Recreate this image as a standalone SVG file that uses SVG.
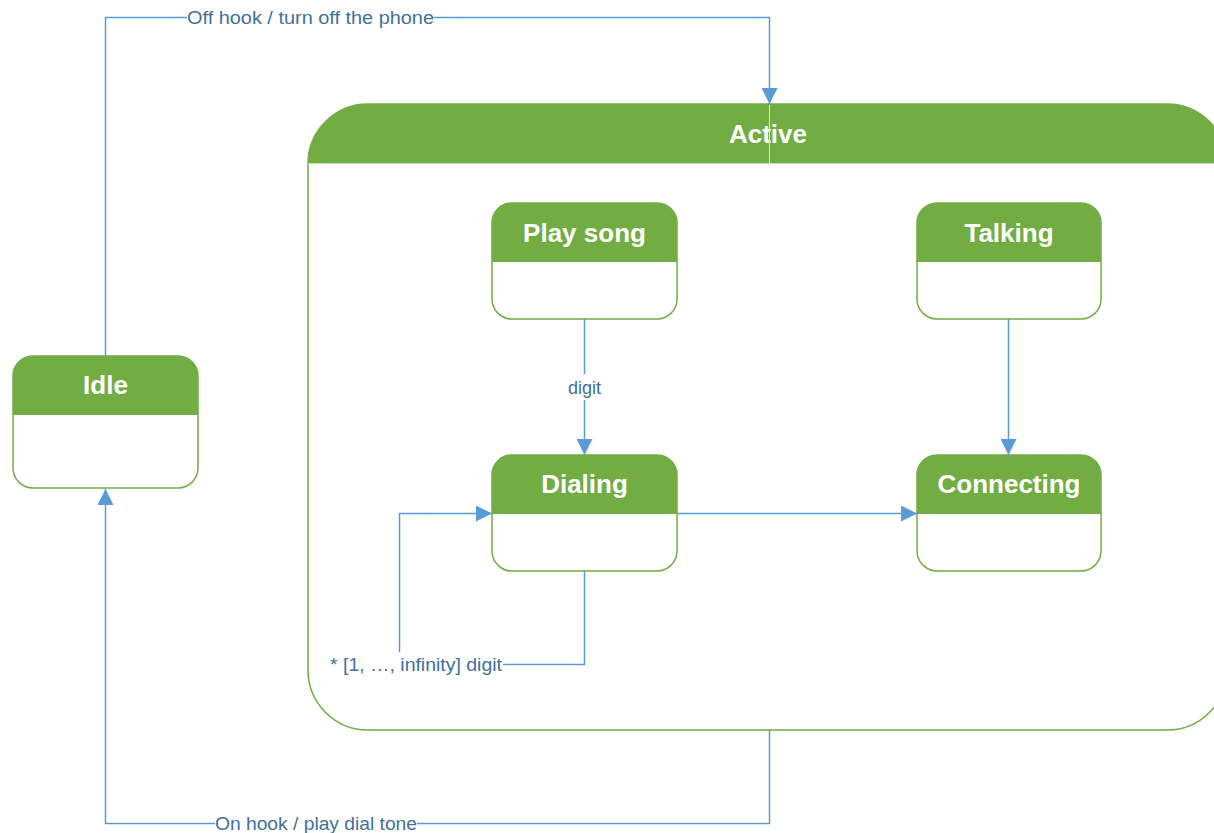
<svg xmlns="http://www.w3.org/2000/svg" width="1214" height="833" viewBox="0 0 1214 833">
<style>
.hdr{fill:#72AD43}
.box{fill:#FFFFFF;stroke:#72AD43;stroke-width:1.5}
.title{font-family:"Liberation Sans",Arial,sans-serif;font-weight:bold;font-size:26px;fill:#FFFFFF;text-anchor:middle}
.edge{fill:none;stroke:#5B9BD5;stroke-width:1.5}
.lbl{font-family:"Liberation Sans",Arial,sans-serif;font-size:18px;fill:#41719C}
</style>
<defs>
<marker id="arr" markerUnits="userSpaceOnUse" markerWidth="17" markerHeight="16" refX="16" refY="8" orient="auto">
<path d="M0,0 L16,8 L0,16 Z" fill="#5B9BD5"/>
</marker>
</defs>
<rect width="1214" height="833" fill="#FFFFFF"/>
<g id="active">
<rect class="box" x="308" y="104" width="919" height="626" rx="60" ry="60"/>
<path class="hdr" d="M308,163 A60,59 0 0 1 368,104 H1167 A60,59 0 0 1 1227,163 Z"/>
<line x1="308.5" y1="163.5" x2="1227" y2="163.5" stroke="#C9E2B8" stroke-width="1"/>
<text class="title" x="768" y="143">Active</text>
</g>
<g id="idle">
<rect class="box" x="13" y="356" width="185" height="132" rx="20" ry="20"/>
<path class="hdr" d="M13,415 V376 A20,20 0 0 1 33,356 H178 A20,20 0 0 1 198,376 V415 Z"/>
<text class="title" x="105.5" y="394">Idle</text>
</g>
<g id="playsong">
<rect class="box" x="492" y="203" width="185" height="116" rx="20" ry="20"/>
<path class="hdr" d="M492,262 V223 A20,20 0 0 1 512,203 H657 A20,20 0 0 1 677,223 V262 Z"/>
<text class="title" x="584.5" y="242">Play song</text>
</g>
<g id="talking">
<rect class="box" x="917" y="203" width="184" height="116" rx="20" ry="20"/>
<path class="hdr" d="M917,262 V223 A20,20 0 0 1 937,203 H1081 A20,20 0 0 1 1101,223 V262 Z"/>
<text class="title" x="1009" y="242">Talking</text>
</g>
<g id="dialing">
<rect class="box" x="492" y="455" width="185" height="116" rx="20" ry="20"/>
<path class="hdr" d="M492,514 V475 A20,20 0 0 1 512,455 H657 A20,20 0 0 1 677,475 V514 Z"/>
<text class="title" x="584.5" y="493">Dialing</text>
</g>
<g id="connecting">
<rect class="box" x="917" y="455" width="184" height="116" rx="20" ry="20"/>
<path class="hdr" d="M917,514 V475 A20,20 0 0 1 937,455 H1081 A20,20 0 0 1 1101,475 V514 Z"/>
<text class="title" x="1009" y="493">Connecting</text>
</g>
<g id="connectors">
<path class="edge" d="M105.5,356 V17.5 H187 M434,17.5 H769.5 V104" marker-end="url(#arr)"/>
<line x1="769.5" y1="105" x2="769.5" y2="163" stroke="#D9E8F5" stroke-width="1"/>
<text class="lbl" x="187" y="23.5" textLength="247" lengthAdjust="spacingAndGlyphs">Off hook / turn off the phone</text>
<path class="edge" d="M769.5,730 V823.5 H417 M215,823.5 H105.5 V489" marker-end="url(#arr)"/>
<text class="lbl" x="215" y="829.5" textLength="202" lengthAdjust="spacingAndGlyphs">On hook / play dial tone</text>
<path class="edge" d="M584.5,319 V374 M584.5,400 V455" marker-end="url(#arr)"/>
<text class="lbl" x="584.5" y="393.5" text-anchor="middle">digit</text>
<path class="edge" d="M1008.5,319 V455" marker-end="url(#arr)"/>
<path class="edge" d="M677,513.5 H917" marker-end="url(#arr)"/>
<path class="edge" d="M584.5,571 V664.5 H503 M399.5,652 V513.5 H492" marker-end="url(#arr)"/>
<text class="lbl" x="330" y="670.5" textLength="172" lengthAdjust="spacingAndGlyphs">* [1, …, infinity] digit</text>
</g>
</svg>
